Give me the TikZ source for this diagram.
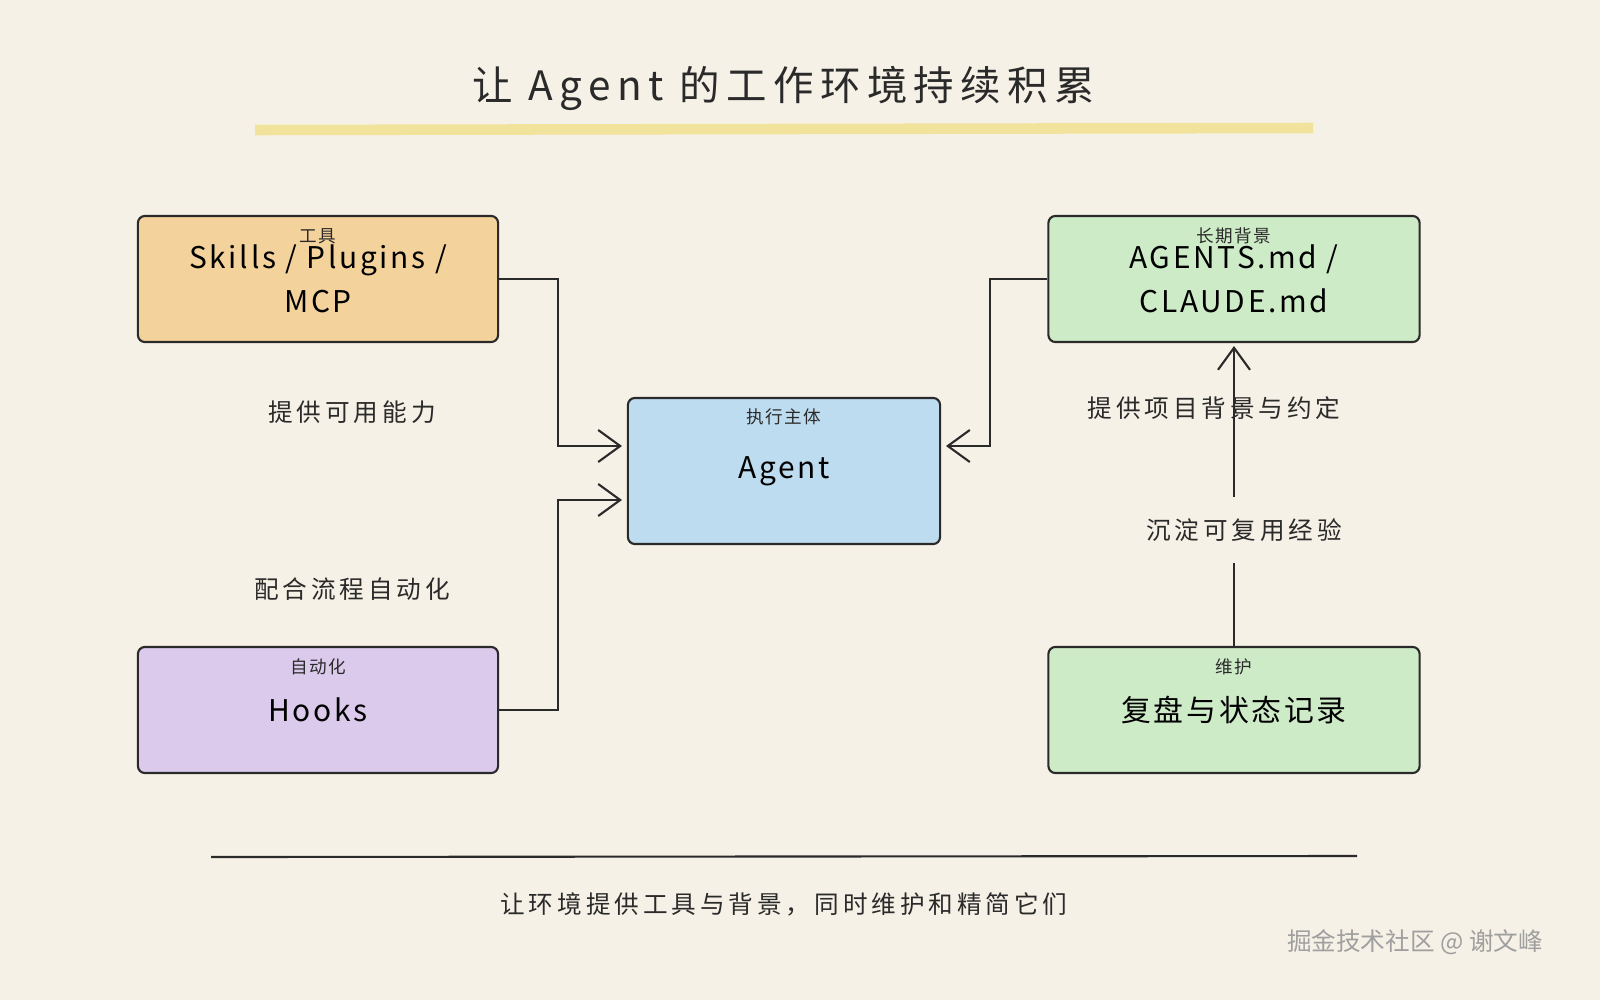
\documentclass[tikz,border=0pt]{standalone}
\usepackage{fontspec}
\setmainfont{Noto Sans CJK SC}
\newfontfamily\wide{Noto Sans CJK SC}[LetterSpace=16]
\newfontfamily\loose{Noto Sans CJK SC}[LetterSpace=9]
\usetikzlibrary{arrows.meta}
\definecolor{bg}{HTML}{F6F1E6}
\definecolor{ink}{HTML}{2A2A2A}
\definecolor{tool}{HTML}{F4D29C}
\definecolor{main}{HTML}{BEDCF0}
\definecolor{memo}{HTML}{CEEBC8}
\definecolor{auto}{HTML}{DCCAEC}
\definecolor{hilite}{HTML}{F2E39C}
\tikzset{
  box/.style={draw=ink, line width=0.6pt, rounded corners=2pt, minimum width=3.6cm, minimum height=1.26cm, align=center, font=\loose\fontsize{8.5}{12.5}\selectfont},
  tag/.style={font=\loose\fontsize{5}{6}\selectfont, text=ink},
  note/.style={font=\wide\fontsize{7}{8}\selectfont, text=ink},
  link/.style={draw=ink, line width=0.6pt, -{Straight Barb[length=2.2mm,width=3.2mm]}},
}
\begin{document}
\begin{tikzpicture}[x=0.01cm, y=-0.01cm]
\fill[bg] (0,0) rectangle (1600,1000);
\useasboundingbox (0,0) rectangle (1600,1000);

\node[font=\wide\fontsize{11.5}{14}\selectfont, text=ink] (title) at (784,88) {让 Agent 的工作环境持续积累};
\draw[hilite, line width=3pt] (255,130) -- (1313,128);

\node[box, fill=tool] (tools) at (318,279) {Skills / Plugins /\\MCP};
\node[box, fill=main, minimum width=3.12cm, minimum height=1.46cm] (agent) at (784,471) {Agent};
\node[box, fill=memo, minimum width=3.71cm] (docs) at (1234,279) {AGENTS.md /\\CLAUDE.md};
\node[box, fill=auto] (hooks) at (318,710) {Hooks};
\node[box, fill=memo, minimum width=3.71cm] (review) at (1234,710) {复盘与状态记录};

\node[tag] at (318,236) {工具};
\node[tag] at (784,417) {执行主体};
\node[tag] at (1234,236) {长期背景};
\node[tag] at (318,667) {自动化};
\node[tag] at (1234,667) {维护};

\coordinate (agentA) at (622,446);
\coordinate (agentB) at (622,500);
\coordinate (agentC) at (946,446);
\coordinate (docsIn) at (1234,346);

\draw[link] (tools.east) -- (558,279) |- (agentA);
\draw[link] (hooks.east) -- (558,710) |- (agentB);
\draw[link] (docs.west) -- (990,279) |- (agentC);
\draw[link] (review.north) -- (docsIn);

\node[note] at (352,412) {提供可用能力};
\node[note] at (352,589) {配合流程自动化};
\node[note] at (1214,408) {提供项目背景与约定};
\node[note, fill=bg, inner ysep=6pt] at (1244,530) {沉淀可复用经验};

\draw[ink, line width=0.6pt] (211,857) -- (1357,856);
\node[note] (foot) at (784,904) {让环境提供工具与背景，同时维护和精简它们};
\node[font=\fontsize{7}{8}\selectfont, text=gray!75] (credit) at (1415,942) {掘金技术社区 @ 谢文峰};
\end{tikzpicture}
\end{document}
